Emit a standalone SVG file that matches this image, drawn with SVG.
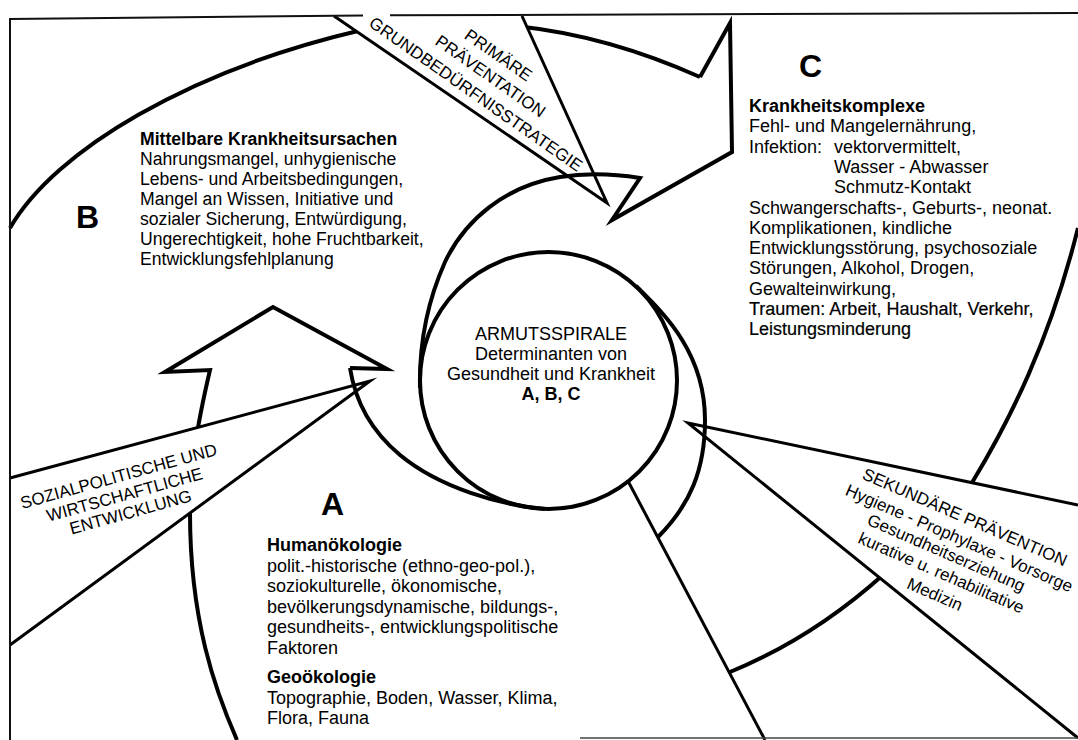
<svg xmlns="http://www.w3.org/2000/svg" width="1078" height="740" viewBox="0 0 1078 740">
<style>
.t{font-family:"Liberation Sans",Arial,Helvetica,sans-serif;font-size:18px;fill:#000}
.tb{font-size:17.6px}
.b{font-weight:bold}
.h{stroke:#000;stroke-width:0.2}
.w{font-family:"Liberation Sans",Arial,Helvetica,sans-serif;font-size:17px;fill:#000;text-anchor:middle}
.big{font-family:"Liberation Sans",Arial,Helvetica,sans-serif;font-size:32px;font-weight:bold;fill:#000}
.c{text-anchor:middle}
.s{fill:none;stroke:#000;stroke-width:4;stroke-linejoin:miter;stroke-miterlimit:10}
.m{fill:none;stroke:#000;stroke-width:3;stroke-linejoin:miter;stroke-miterlimit:10}
.wf{fill:#fff;stroke:none}
.f{fill:none;stroke:#111;stroke-width:2}
</style>
<rect width="1078" height="740" fill="#fff"/>
<g id="connectors">
<path class="s" d="M10,228 C55,150 190,70 362,30"/>
<path class="s" d="M520,26.5 Q608,36 700,77"/>
<path class="s" d="M237,740 C215,690 190,620 190,513 C190,470 196,430 210,370 L165,372 L273,307 L387,369 L350,368"/>
<path class="s" d="M970,486 L973,481 C1010,420 1050,340 1078,228"/>
<path class="s" d="M730,672 Q813,638 884,574"/>
<g id="wedge-primary">
<path class="wf" d="M334,16 L607,203 L522,16 Z"/>
<path class="m" d="M334,16 L607,203 L522,16"/>
</g>
<g id="wedge-sozial">
<path class="wf" d="M10,478 L370,381 L10,645 Z"/>
<path class="m" d="M10,478 L370,381 L10,645"/>
</g>
<g id="wedge-sekundaer">
<path class="wf" d="M1078,505 L688,423 L1078,738 Z"/>
<path class="m" d="M1078,505 L688,423 L1078,738"/>
</g>
<path class="s" d="M420,388 C419,340 428,300 445,262 C465,220 505,186 560,177 C585,173 615,174 640,178 L612,220 L732,152 L730,23 L700,77"/>
<path class="s" d="M636,286 C660,310 705,350 705,420 C705,470 690,505 658,537"/>
<path class="s" d="M350,368 C355,400 370,430 400,455 C440,488 500,505 545,509"/>
<path class="m" d="M628,481 L765,740"/>
</g>
<g id="frame">
<path class="f" d="M10,740 L10,19 L363,15.5 M390,15.3 L1078,13"/>
<path d="M580,738 L1078,738" fill="none" stroke="#444" stroke-width="1.5"/>
</g>
<g id="node-center">
<circle cx="548.5" cy="380.5" r="128.5" class="s"/>
<text class="t c" x="551" y="340">ARMUTSSPIRALE</text>
<text class="t c" x="551" y="360">Determinanten von</text>
<text class="t c" x="551" y="380">Gesundheit und Krankheit</text>
<text class="t c b" x="551" y="400">A, B, C</text>
</g>
<g id="node-b">
<text class="big" x="76" y="228">B</text>
<text class="t tb b" x="140" y="145">Mittelbare Krankheitsursachen</text>
<text class="t tb" x="140" y="165">Nahrungsmangel, unhygienische</text>
<text class="t tb" x="140" y="185">Lebens- und Arbeitsbedingungen,</text>
<text class="t tb" x="140" y="205">Mangel an Wissen, Initiative und</text>
<text class="t tb" x="140" y="225">sozialer Sicherung, Entwürdigung,</text>
<text class="t tb" x="140" y="245">Ungerechtigkeit, hohe Fruchtbarkeit,</text>
<text class="t tb" x="140" y="265">Entwicklungsfehlplanung</text>
</g>
<g id="node-c">
<text class="big" x="799" y="77">C</text>
<text class="t b" x="749" y="112">Krankheitskomplexe</text>
<text class="t" x="749" y="132.3">Fehl- und Mangelernährung,</text>
<text class="t" x="749" y="152.6">Infektion:</text>
<text class="t" x="834" y="152.6">vektorvermittelt,</text>
<text class="t" x="834" y="172.9">Wasser - Abwasser</text>
<text class="t" x="834" y="193.2">Schmutz-Kontakt</text>
<text class="t" x="749" y="213.5">Schwangerschafts-, Geburts-, neonat.</text>
<text class="t" x="749" y="233.8">Komplikationen, kindliche</text>
<text class="t" x="749" y="254.1">Entwicklungsstörung, psychosoziale</text>
<text class="t" x="749" y="274.4">Störungen, Alkohol, Drogen,</text>
<text class="t" x="749" y="294.7">Gewalteinwirkung,</text>
<text class="t h" x="749" y="315">Traumen: Arbeit, Haushalt, Verkehr,</text>
<text class="t h" x="749" y="335.3">Leistungsminderung</text>
</g>
<g id="node-a">
<text class="big" x="321" y="515">A</text>
<text class="t b" x="267" y="551">Humanökologie</text>
<text class="t" x="267" y="571.5">polit.-historische (ethno-geo-pol.),</text>
<text class="t" x="267" y="592">soziokulturelle, ökonomische,</text>
<text class="t" x="267" y="612.5">bevölkerungsdynamische, bildungs-,</text>
<text class="t" x="267" y="633">gesundheits-, entwicklungspolitische</text>
<text class="t" x="267" y="653.5">Faktoren</text>
<text class="t b" x="267" y="683">Geoökologie</text>
<text class="t" x="267" y="703.5">Topographie, Boden, Wasser, Klima,</text>
<text class="t" x="267" y="724">Flora, Fauna</text>
</g>
<g id="label-primary">
<text class="w" transform="translate(498.5,55) rotate(35)" y="6">PRIMÄRE</text>
<text class="w" transform="translate(490.5,76) rotate(35)" y="6">PRÄVENTATION</text>
<text class="w" transform="translate(476,94) rotate(35)" y="6">GRUNDBEDÜRFNISSTRATEGIE</text>
</g>
<g id="label-sozial">
<text class="w" transform="translate(118.5,476) rotate(-15.5)" y="6">SOZIALPOLITISCHE UND</text>
<text class="w" transform="translate(124.5,494.5) rotate(-15.5)" y="6">WIRTSCHAFTLICHE</text>
<text class="w" transform="translate(130.5,512) rotate(-15.5)" y="6">ENTWICKLUNG</text>
</g>
<g id="label-sekundaer">
<text class="w" transform="translate(965,517) rotate(23.5)" y="6">SEKUNDÄRE PRÄVENTION</text>
<text class="w" transform="translate(959,539) rotate(23.5)" y="5">Hygiene - Prophylaxe - Vorsorge</text>
<text class="w" transform="translate(945.5,554.5) rotate(23.5)" y="4">Gesundheitserziehung</text>
<text class="w" transform="translate(941,573.5) rotate(23.5)" y="5">kurative u. rehabilitative</text>
<text class="w" transform="translate(934.5,595) rotate(23.5)" y="5">Medizin</text>
</g>
</svg>
